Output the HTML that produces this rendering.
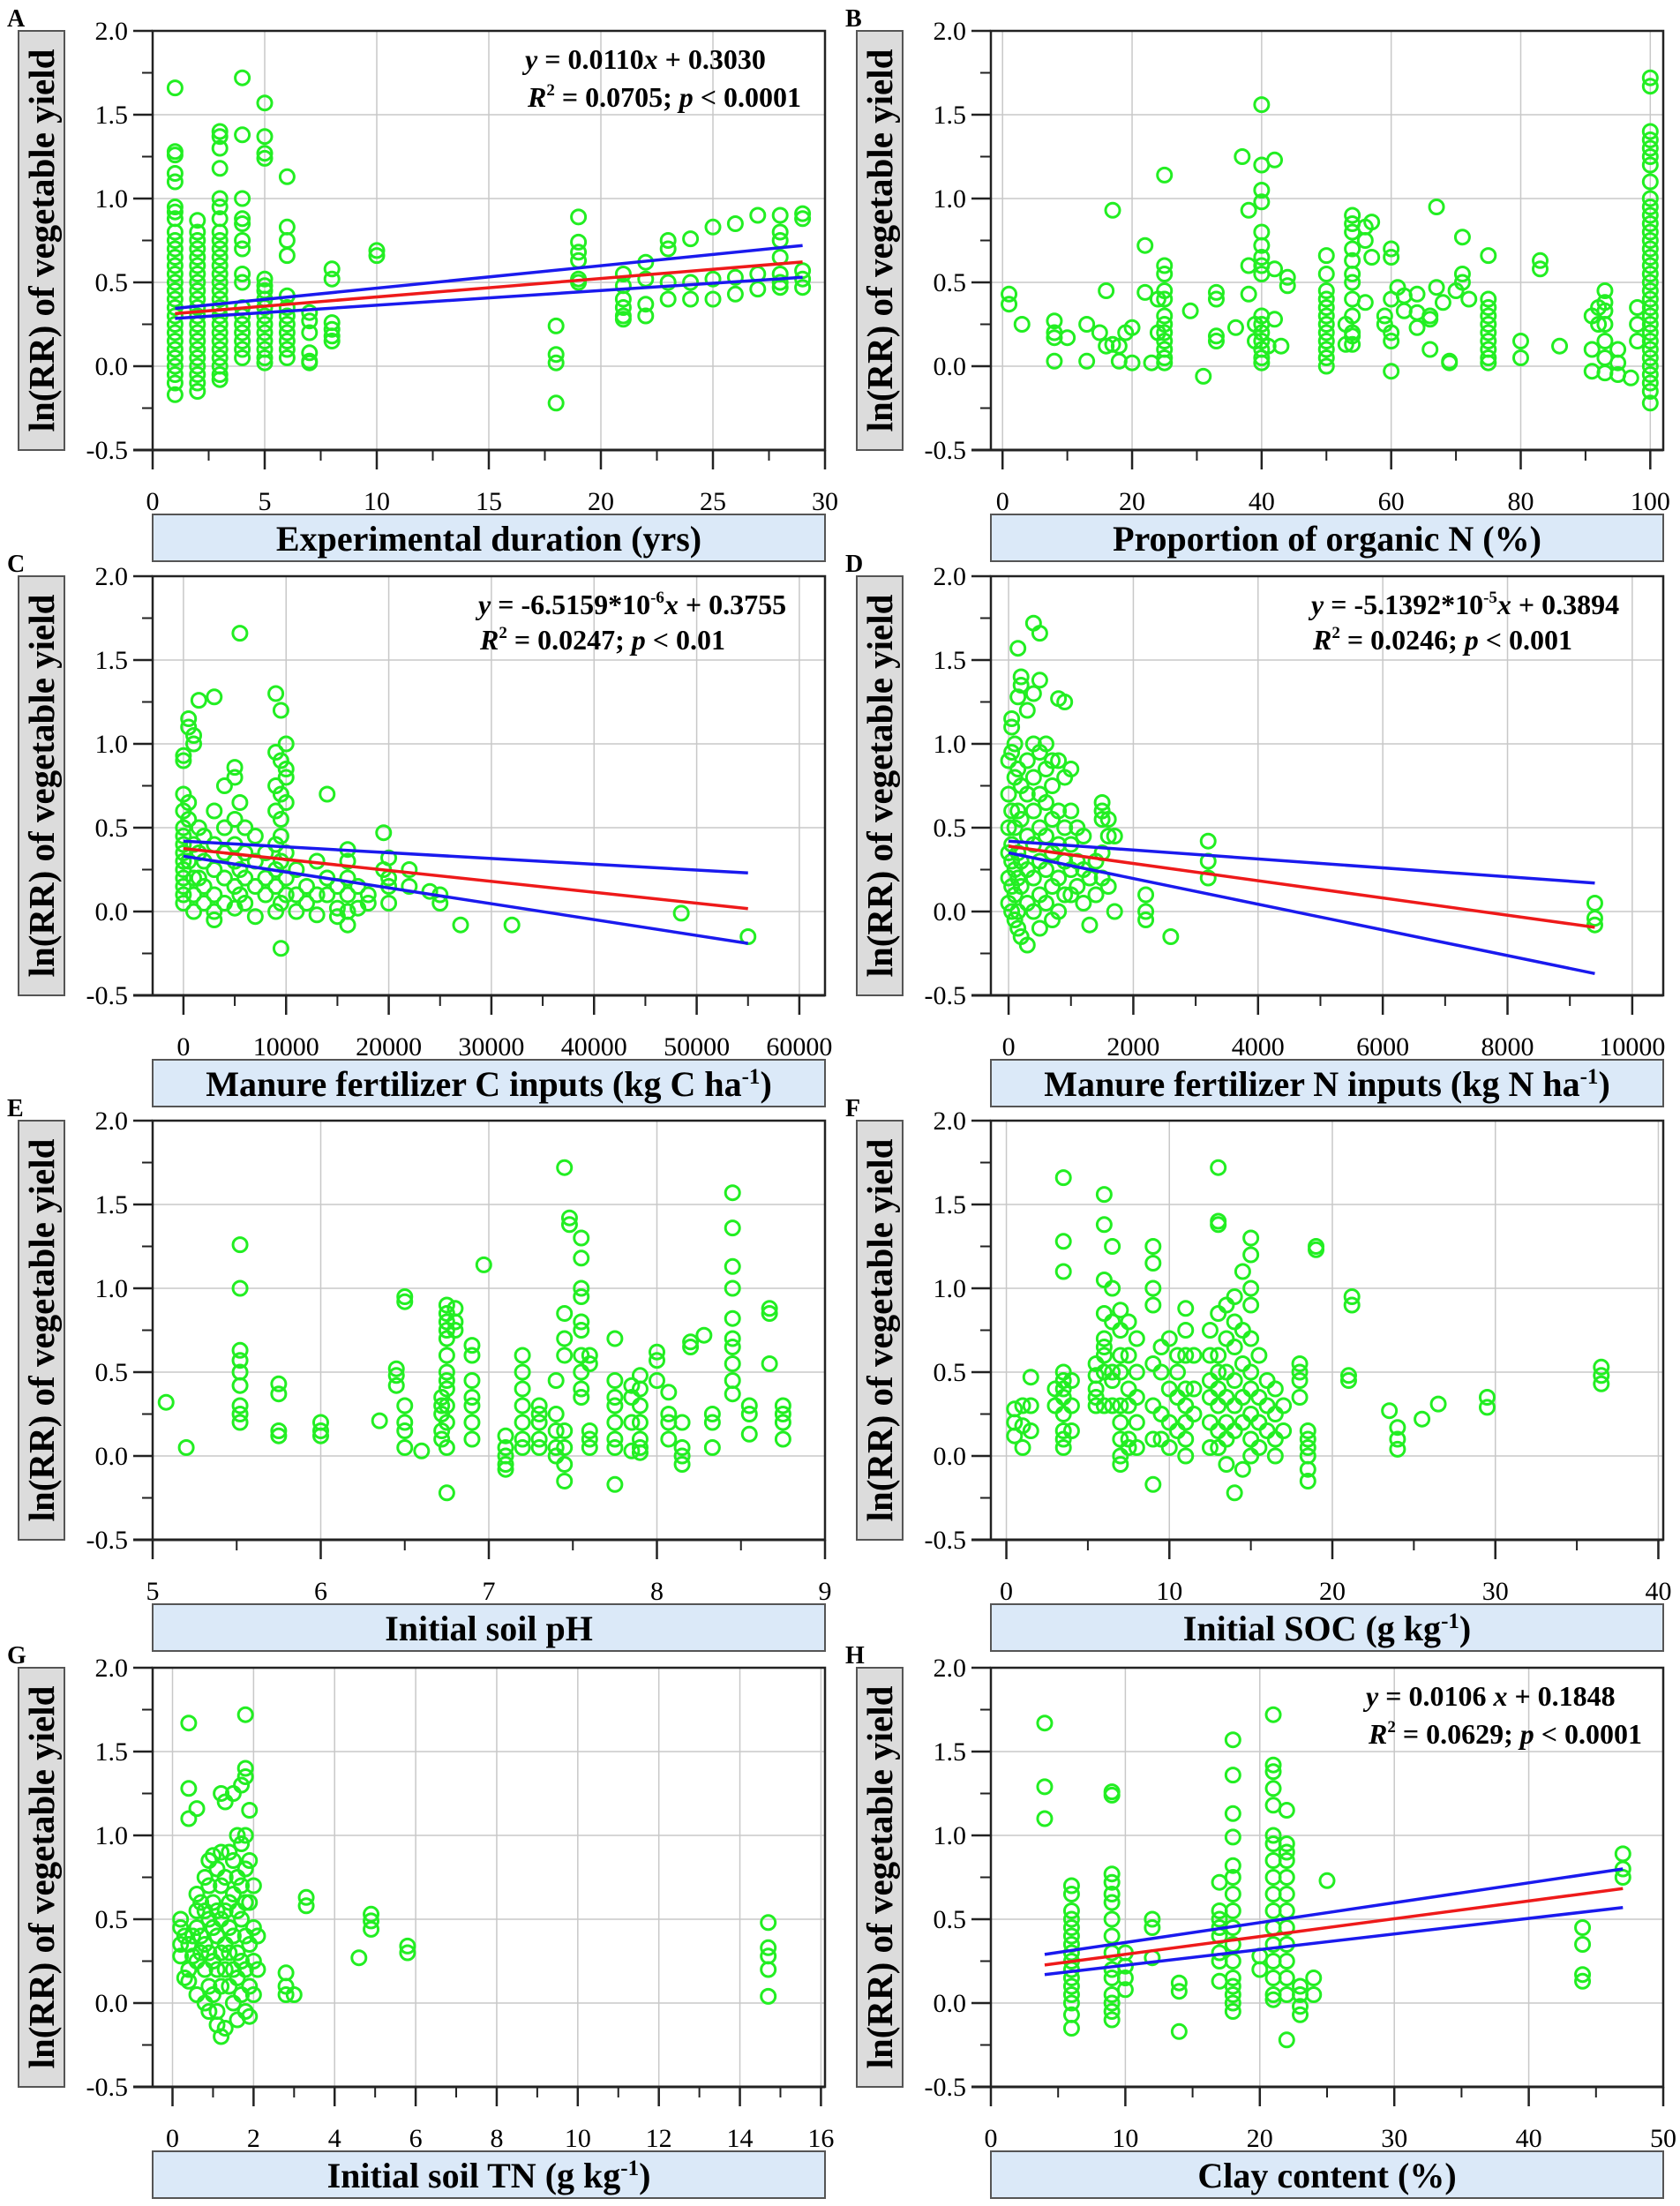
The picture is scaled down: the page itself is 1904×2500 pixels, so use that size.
<!DOCTYPE html>
<html><head><meta charset="utf-8">
<style>
html,body{margin:0;padding:0;background:#fff;}
svg{display:block;}
text{font-family:"Liberation Serif",serif;}
</style></head>
<body>
<svg id="fig" width="1904" height="2500" viewBox="0 0 1904 2500" xmlns="http://www.w3.org/2000/svg"></svg>
<script>
// ---- Panel A data: experimental duration (yrs) ----
const aCols = [1,2,3,4,5,6,7,8,10,18,19,21,22,23,24,25,26,27,28,29];
const aVals = [
 [1.66,1.28,1.26,1.15,1.1,0.95,0.92,0.88,0.8,0.75,0.7,0.65,0.6,0.55,0.5,0.45,0.4,0.35,0.3,0.25,0.2,0.15,0.1,0.05,0,-0.05,-0.1,-0.17],
 [0.87,0.8,0.75,0.7,0.65,0.6,0.55,0.5,0.45,0.4,0.35,0.3,0.25,0.2,0.15,0.1,0.05,0,-0.05,-0.1,-0.15],
 [1.4,1.37,1.3,1.18,1.0,0.95,0.88,0.8,0.75,0.7,0.65,0.6,0.55,0.5,0.45,0.4,0.35,0.3,0.25,0.2,0.15,0.1,0.05,0,-0.05,-0.08],
 [1.72,1.38,1.0,0.88,0.85,0.75,0.7,0.55,0.5,0.35,0.3,0.25,0.2,0.15,0.1,0.05],
 [1.57,1.37,1.27,1.24,0.52,0.48,0.45,0.4,0.35,0.3,0.25,0.2,0.15,0.1,0.05,0.02],
 [1.13,0.83,0.75,0.66,0.42,0.35,0.3,0.25,0.2,0.15,0.1,0.05],
 [0.32,0.27,0.2,0.08,0.03,0.02],
 [0.58,0.52,0.26,0.22,0.18,0.15],
 [0.69,0.66],
 [0.24,0.07,0.02,-0.22],
 [0.89,0.74,0.68,0.63,0.52,0.5],
 [0.55,0.48,0.4,0.35,0.3,0.28],
 [0.62,0.52,0.37,0.3],
 [0.75,0.7,0.5,0.4],
 [0.76,0.5,0.4],
 [0.83,0.52,0.4],
 [0.85,0.53,0.43],
 [0.9,0.55,0.46],
 [0.9,0.8,0.75,0.65,0.55,0.5,0.47],
 [0.91,0.88,0.57,0.52,0.47]];
const aFit = [[1,0.314],[29,0.622]];
const aCiUp = [[1,0.345],[29,0.72]];
const aCiLo = [[1,0.285],[29,0.53]];

// ---- Panel B data: proportion of organic N (%) ----
const bCols = [1,3,8,10,13,15,16,17,18,19,20,22,23,24,25,29,31,33,36,37,38,39,40,41,42,43,44,50,53,54,56,57,59,60,61,62,64,66,67,68,69,70,71,72,75,80,83,86,91,92,93,95,97,98,100];
const bVals = [[0.43,0.37],[0.25],[0.27,0.2,0.17,0.03],[0.17],[0.03,0.25],[0.2],[0.45,0.12],[0.93,0.13],[0.12,0.03],[0.2],[0.23,0.02],[0.72,0.44],[0.02],[0.4,0.2],
 [1.14,0.6,0.55,0.45,0.4,0.3,0.25,0.2,0.15,0.1,0.05,0.02],[0.33],[-0.06],[0.44,0.4,0.18,0.15],[0.23],[1.25],[0.93,0.6,0.43],[0.25,0.15],
 [1.56,1.2,1.05,0.98,0.8,0.72,0.65,0.6,0.55,0.3,0.25,0.2,0.15,0.1,0.05,0.02],[0.12],[1.23,0.58,0.28],[0.12],[0.53,0.48],
 [0.66,0.55,0.45,0.4,0.35,0.3,0.25,0.2,0.15,0.1,0.05,0],[0.13,0.25],[0.9,0.85,0.8,0.7,0.63,0.55,0.5,0.4,0.3,0.2,0.18,0.13],[0.83,0.75,0.38],[0.86,0.65],[0.3,0.25],
 [0.7,0.65,0.4,0.2,0.15,-0.03],[0.47],[0.33,0.42],[0.32,0.23,0.43],[0.1,0.28,0.3],[0.95,0.47],[0.38],[0.03,0.02],[0.45],[0.77,0.55,0.5],[0.4],
 [0.66,0.4,0.35,0.3,0.25,0.2,0.15,0.1,0.05,0.02],[0.15,0.05],[0.63,0.58],[0.12],[0.3,0.1,-0.03],[0.35,0.25],[0.45,0.38,0.33,0.25,0.15,0.05,-0.04],[0.02,-0.05,0.1],[-0.07],[0.35,0.25,0.15],
 [1.72,1.67,1.4,1.35,1.3,1.25,1.2,1.1,1.0,0.95,0.9,0.85,0.8,0.75,0.7,0.65,0.6,0.55,0.5,0.45,0.4,0.35,0.3,0.25,0.2,0.15,0.1,0.05,0,-0.05,-0.1,-0.15,-0.22]];

// ---- Panel C data: manure C inputs (kg C/ha) ----
const cCols = [0,500,1000,1500,2000,3000,4000,5000,5500,6000,7000,8000,9000,9500,10000,11000,12000,13000,14000,15000,16000,17000,18000,19500,20000,22000,24000,25000,27000,32000,48500,55000];
const cVals = [[0.93,0.9,0.7,0.6,0.5,0.45,0.4,0.35,0.3,0.25,0.2,0.15,0.1,0.05],[1.15,1.1,0.65,0.55,0.3],[1.05,1.0,0.4,0.2,0.1,0.0],[1.26,0.5,0.35,0.2],[0.45,0.3,0.15,0.05],
 [1.28,0.6,0.4,0.25,0.1,0.0,-0.05],[0.75,0.5,0.35,0.2,0.05],[0.86,0.8,0.55,0.4,0.3,0.15,0.02],[1.66,0.65,0.25,0.1],[0.5,0.35,0.2,0.05],[0.45,0.3,0.15,-0.03],[0.35,0.2,0.1],
 [1.3,0.95,0.75,0.6,0.4,0.25,0.15,0.0],[1.2,0.9,0.7,0.55,0.45,0.3,0.05,-0.22],[1.0,0.85,0.8,0.65,0.35,0.2,0.1],[0.25,0.1,0.0],[0.15,0.05],[0.3,0.1,-0.02],[0.7,0.2,0.1],
 [0.15,0.02,-0.03],[0.37,0.3,0.2,0.1,0.0,-0.08],[0.15,0.02],[0.1,0.05],[0.47,0.25],[0.32,0.2,0.15,0.05],[0.25,0.15],[0.12],[0.1,0.05],[-0.08],[-0.08],[-0.01],[-0.15]];
const cFit = [[0,0.3755],[55000,0.017]];
const cCiUp = [[0,0.42],[55000,0.23]];
const cCiLo = [[0,0.33],[55000,-0.19]];

// ---- Panel D data: manure N inputs (kg N/ha) ----
const dCols = [0,50,100,150,200,300,400,500,600,700,800,900,1000,1100,1200,1300,1400,1500,1600,1700,2200,2600,3200,9400];
const dVals = [[0.9,0.7,0.5,0.35,0.2,0.05],[1.15,1.1,0.95,0.6,0.4,0.3,0.15,0.0],[1.0,0.8,0.5,0.25,0.1,-0.05],[1.57,1.28,0.85,0.6,0.35,0.2,0.0,-0.1],[1.4,1.35,0.75,0.55,0.3,0.15,-0.15],
 [1.2,0.9,0.7,0.45,0.25,0.05,-0.2],[1.72,1.3,1.0,0.8,0.6,0.4,0.2,0.0],[1.66,1.38,0.95,0.7,0.5,0.3,0.1,-0.1],[1.0,0.85,0.65,0.45,0.25,0.05],[0.9,0.75,0.55,0.35,0.15,-0.05],
 [1.27,0.9,0.6,0.4,0.2,0.0],[1.25,0.8,0.5,0.3,0.1],[0.85,0.6,0.4,0.25,0.1],[0.5,0.3,0.15],[0.45,0.25,0.05],[0.2,-0.08],[0.3,0.1],[0.65,0.6,0.55,0.35,0.2],[0.55,0.45,0.15],[0.45,0.0],
 [0.1,0.0,-0.05],[-0.15],[0.42,0.3,0.2],[0.05,-0.04,-0.08]];
const dFit = [[0,0.3894],[9400,-0.094]];
const dCiUp = [[0,0.42],[9400,0.17]];
const dCiLo = [[0,0.35],[9400,-0.37]];

// ---- Panel E data: initial soil pH ----
const eCols = [5.08,5.2,5.52,5.75,6.0,6.35,6.45,6.5,6.6,6.72,6.75,6.8,6.9,6.97,7.1,7.2,7.3,7.4,7.45,7.48,7.55,7.6,7.75,7.85,7.9,8.0,8.07,8.15,8.2,8.28,8.33,8.45,8.55,8.67,8.75];
const eVals = [[0.32],[0.05],[1.26,1.0,0.63,0.57,0.5,0.42,0.3,0.25,0.2],[0.43,0.37,0.15,0.12],[0.2,0.15,0.12],[0.21],[0.52,0.48,0.42],[0.95,0.92,0.3,0.2,0.15,0.05],[0.03],
 [0.35,0.3,0.25,0.15,0.1],[0.9,0.85,0.8,0.75,0.7,0.6,0.5,0.45,0.4,0.3,0.2,0.05,-0.22],[0.88,0.8,0.75],[0.66,0.6,0.45,0.35,0.3,0.2,0.1],[1.14],[0.12,0.05,0.0,-0.05,-0.08],
 [0.6,0.5,0.4,0.3,0.2,0.1,0.05],[0.3,0.25,0.2,0.1,0.05],[0.45,0.25,0.15,0.05,0.0],[1.72,0.85,0.7,0.6,0.15,0.05,-0.05,-0.15],[1.42,1.38],[1.3,1.18,1.0,0.95,0.8,0.75,0.6,0.5,0.4,0.35],
 [0.6,0.55,0.15,0.1,0.05],[0.7,0.45,0.35,0.3,0.2,0.1,0.05,-0.17],[0.42,0.35,0.2,0.03],[0.48,0.4,0.3,0.2,0.1,0.05,0.02],[0.62,0.57,0.45],[0.38,0.25,0.2,0.1],[0.2,0.05,0.0,-0.05],
 [0.68,0.65],[0.72],[0.25,0.2,0.05],[1.57,1.36,1.13,1.0,0.82,0.7,0.65,0.55,0.45,0.37],[0.3,0.25,0.13],[0.88,0.85,0.55],[0.3,0.25,0.2,0.1]];

// ---- Panel F data: initial SOC (g/kg) ----
const fCols = [0.5,1,1.5,3,3.5,4,5.5,6,6.5,7,7.5,8,9,9.5,10,10.5,11,11.5,12.5,13,13.5,14,14.5,15,15.5,16,16.5,17,18,18.5,19,21,21.2,23.5,24,25.5,26.5,29.5,36.5];
const fVals = [[0.28,0.2,0.12],[0.3,0.18,0.05],[0.47,0.3,0.15],[0.3,0.4],[1.66,1.28,1.1,0.5,0.45,0.4,0.35,0.25,0.15,0.1,0.05],[0.45,0.3,0.15],[0.55,0.48,0.4,0.35,0.3],
 [1.56,1.38,1.05,0.85,0.7,0.65,0.6,0.5,0.3],[1.25,1.0,0.8,0.5,0.45,0.3],[0.87,0.75,0.6,0.5,0.3,0.2,0.1,0,-0.05],[0.8,0.6,0.4,0.3,0.1,0.05],[0.7,0.5,0.35,0.2,0.05],
 [1.25,1.15,1.0,0.9,0.55,0.3,0.1,-0.17],[0.65,0.5,0.25,0.1],[0.7,0.4,0.2,0.05],[0.6,0.5,0.35,0.15],[0.88,0.75,0.6,0.4,0.3,0.2,0.1,0.0],[0.6,0.4,0.25],[0.75,0.6,0.45,0.35,0.2,0.05],
 [1.72,1.4,1.38,0.85,0.6,0.5,0.4,0.3,0.15,0.05],[0.9,0.7,0.5,0.35,0.2,0.1,-0.05],[0.95,0.8,0.65,0.45,0.3,0.15,-0.22],[1.1,0.75,0.55,0.35,0.2,-0.08],[1.3,1.2,1.0,0.9,0.7,0.5,0.4,0.25,0.1,0.0],
 [0.6,0.35,0.2,0.05],[0.45,0.3,0.15],[0.4,0.25,0.1,0.0],[0.3,0.15],[0.55,0.5,0.45,0.35],[0.15,0.1,0.05,0,-0.08,-0.15],[1.25,1.23],[0.48,0.45],[0.95,0.9],[0.27],[0.17,0.1,0.04],[0.22],[0.31],[0.35,0.29],[0.53,0.48,0.43]];

// ---- Panel G data: initial soil TN (g/kg) ----
const gCols = [0.2,0.3,0.4,0.5,0.6,0.7,0.8,0.9,1.0,1.1,1.2,1.3,1.4,1.5,1.6,1.7,1.8,1.9,2.0,2.1,2.8,3.0,3.3,4.6,4.9,5.8,14.7];
const gVals = [[0.5,0.45,0.35,0.28],[0.4,0.15],[1.67,1.28,1.1,0.35,0.2,0.13],[0.4,0.28],[1.16,0.65,0.55,0.45,0.25,0.05],[0.6,0.4,0.3],[0.75,0.55,0.35,0.2,0.0],
 [0.85,0.7,0.5,0.3,0.1,-0.05],[0.88,0.6,0.45,0.25,0.05],[0.8,0.55,0.4,0.2,-0.05,-0.13],[1.25,0.9,0.7,0.5,0.3,0.1,-0.2],[1.2,0.75,0.55,0.35,0.2,-0.15],[0.9,0.6,0.45,0.3,0.1],
 [1.25,0.85,0.65,0.4,0.2,0.0],[1.0,0.75,0.55,0.3,0.15,-0.1],[1.3,0.95,0.7,0.5,0.25,0.05],[1.72,1.4,1.35,1.0,0.8,0.6,0.4,0.2,-0.05],[1.15,0.85,0.6,0.35,0.1,-0.08],
 [0.7,0.45,0.25,0.05],[0.4,0.2],[0.18,0.1,0.05],[0.05],[0.63,0.58],[0.27],[0.53,0.49,0.44],[0.34,0.3],[0.48,0.33,0.28,0.2,0.04]];

// ---- Panel H data: clay content (%) ----
const hCols = [4,6,9,10,12,14,17,18,20,21,22,23,24,25,44,47];
const hVals = [[1.67,1.29,1.1],[0.7,0.65,0.55,0.5,0.45,0.4,0.35,0.3,0.25,0.2,0.15,0.1,0.05,0,-0.07,-0.15],[1.26,1.24,0.77,0.72,0.65,0.6,0.5,0.4,0.3,0.2,0.15,0.05,0,-0.05,-0.1],
 [0.3,0.22,0.15,0.08],[0.5,0.45,0.27],[0.12,0.07,-0.17],[0.72,0.55,0.5,0.45,0.4,0.3,0.25,0.13],[1.57,1.36,1.13,0.99,0.82,0.75,0.65,0.55,0.45,0.35,0.25,0.15,0.1,0.05,0,-0.05],
 [0.28,0.2],[1.72,1.42,1.38,1.28,1.18,1.0,0.95,0.85,0.75,0.65,0.55,0.45,0.35,0.25,0.15,0.05,0.02],[1.15,0.95,0.9,0.85,0.75,0.65,0.55,0.45,0.35,0.25,0.15,0.05,-0.22],
 [0.1,0.05,-0.02,-0.07],[0.15,0.05],[0.73],[0.45,0.35,0.17,0.13],[0.89,0.8,0.75]];
const hFit = [[4,0.2272],[47,0.683]];
const hCiUp = [[4,0.29],[47,0.80]];
const hCiLo = [[4,0.17],[47,0.57]];

const yTicks = ["-0.5","0.0","0.5","1.0","1.5","2.0"];
const aTicks = ["0","5","10","15","20","25","30"];
const bTicks = ["0","20","40","60","80","100"];
const cTicks = ["0","10000","20000","30000","40000","50000","60000"];
const dTicks = ["0","2000","4000","6000","8000","10000"];
const eTicks = ["5","6","7","8","9"];
const fTicks = ["0","10","20","30","40"];
const gTicks = ["0","2","4","6","8","10","12","14","16"];
const hTicks = ["0","10","20","30","40","50"];

const NS = "http://www.w3.org/2000/svg";
const svg = document.getElementById('fig');
function mk(tag, attrs, parent){ const e=document.createElementNS(NS,tag); for(const k in attrs) e.setAttribute(k,attrs[k]); (parent||svg).appendChild(e); return e; }

const COLS=[173,1123], W=762, TOPS=[35,653,1270,1890], H=475;
const panels = [
 {id:'a',letter:'A',c:0,r:0,xmin:0,xmax:30,ticks:aTicks,minor:2.5,cols:aCols,vals:aVals,fit:aFit,up:aCiUp,lo:aCiLo,label:['Experimental duration (yrs)'],eq:['0.0110','x + 0.3030','0.0705','0.0001',595]},
 {id:'b',letter:'B',c:1,r:0,xmin:-1.8,xmax:102,ticks:bTicks,minor:10,cols:bCols,vals:bVals,label:['Proportion of organic N (%)']},
 {id:'c',letter:'C',c:0,r:1,xmin:-3000,xmax:62500,ticks:cTicks,minor:5000,cols:cCols,vals:cVals,fit:cFit,up:cCiUp,lo:cCiLo,label:['Manure fertilizer C inputs (kg C ha','-1',')'],eqC:['-6.5159*10','-6','0.3755','0.0247','0.01',542]},
 {id:'d',letter:'D',c:1,r:1,xmin:-284,xmax:10497,ticks:dTicks,minor:1000,cols:dCols,vals:dVals,fit:dFit,up:dCiUp,lo:dCiLo,label:['Manure fertilizer N inputs (kg N ha','-1',')'],eqC:['-5.1392*10','-5','0.3894','0.0246','0.001',1486]},
 {id:'e',letter:'E',c:0,r:2,xmin:5,xmax:9,ticks:eTicks,minor:0.5,cols:eCols,vals:eVals,label:['Initial soil pH']},
 {id:'f',letter:'F',c:1,r:2,xmin:-0.95,xmax:40.3,ticks:fTicks,minor:5,cols:fCols,vals:fVals,label:['Initial SOC  (g kg','-1',')']},
 {id:'g',letter:'G',c:0,r:3,xmin:-0.49,xmax:16.1,ticks:gTicks,minor:1,cols:gCols,vals:gVals,label:['Initial soil TN (g kg','-1',')']},
 {id:'h',letter:'H',c:1,r:3,xmin:0,xmax:50,ticks:hTicks,minor:5,cols:hCols,vals:hVals,fit:hFit,up:hCiUp,lo:hCiLo,label:['Clay content (%)'],eq:['0.0106',' x + 0.1848','0.0629','0.0001',1548]}
];

panels.forEach(p=>{
  const L=COLS[p.c], T=TOPS[p.r], R=L+W, B=T+H;
  const sx=v=>L+(v-p.xmin)/(p.xmax-p.xmin)*W;
  const sy=v=>B-(v+0.5)/2.5*H;
  const g=mk('g',{});
  
  
  const lt=mk('text',{x:L-165,y:T-5,'font-family':'Liberation Sans, sans-serif','font-weight':'bold','font-size':28},g);
  lt.textContent=p.letter;
  
  
  const yb=mk('rect',{x:L-152,y:T,width:52,height:H,fill:'#dcdcdc',stroke:'#555','stroke-width':2},g);
  
  
  const yt=mk('text',{x:0,y:0,transform:`translate(${L-112},${T+H/2}) rotate(-90)`,'text-anchor':'middle','font-weight':'bold','font-size':41},g);
  yt.textContent='ln(RR) of vegetable yield';
  
  
  for(let i=0;i<yTicks.length;i++){ const v=-0.5+0.5*i; const y=sy(v);
    mk('line',{x1:L,x2:R,y1:y,y2:y,stroke:'#c8c8c8','stroke-width':1.5},g);
    mk('line',{x1:L-22,x2:L,y1:y,y2:y,stroke:'#222','stroke-width':2.5},g);
    const t=mk('text',{x:L-28,y:y+10,'text-anchor':'end','font-size':30},g); t.textContent=yTicks[i];
    
    
    if(i<yTicks.length-1){ const ym=sy(v+0.25); mk('line',{x1:L-12,x2:L,y1:ym,y2:ym,stroke:'#222','stroke-width':2},g); }
  }
  p.ticks.forEach((lab)=>{ const v=parseFloat(lab); const x=sx(v);
    if(x>L+2&&x<R-2) mk('line',{x1:x,x2:x,y1:T,y2:B,stroke:'#c8c8c8','stroke-width':1.5},g);
    mk('line',{x1:x,x2:x,y1:B,y2:B+22,stroke:'#222','stroke-width':2.5},g);
    const t=mk('text',{x:x,y:B+68,'text-anchor':'middle','font-size':30},g); t.textContent=lab;
    
    
  });
  const t0=parseFloat(p.ticks[0]);
  for(let v=t0+p.minor; v<parseFloat(p.ticks[p.ticks.length-1]); v+=p.minor*2){ const x=sx(v); mk('line',{x1:x,x2:x,y1:B,y2:B+12,stroke:'#222','stroke-width':2},g); }
  mk('rect',{x:L,y:T,width:W,height:H,fill:'none',stroke:'#222','stroke-width':2.5},g);
  mk('line',{x1:L-22,x2:R,y1:B,y2:B,stroke:'#222','stroke-width':3},g);
  p.cols.forEach((cx,i)=>{ p.vals[i].forEach(v=>{
    const c=mk('circle',{cx:sx(cx),cy:sy(v),r:8,fill:'none',stroke:'#22ee22','stroke-width':3},g);
    
    
  });});
  if(p.fit){
    [[p.up,'#1a1aee','ci-upper'],[p.lo,'#1a1aee','ci-lower'],[p.fit,'#ee1a1a','fit-line']].forEach(([d,col,nm])=>{
      const ln=mk('line',{x1:sx(d[0][0]),y1:sy(d[0][1]),x2:sx(d[1][0]),y2:sy(d[1][1]),stroke:col,'stroke-width':3.5},g);
      
      
    });
  }
  const eqs={'font-weight':'bold','font-size':32};
  if(p.eq){
    const e1=mk('text',Object.assign({x:p.eq[4],y:T+43},eqs),g);
    e1.innerHTML=`<tspan font-style="italic">y</tspan> = ${p.eq[0]}${p.eq[1].replace('x','<tspan font-style="italic">x</tspan>')}`;
    
    
    const e2=mk('text',Object.assign({x:p.eq[4]+3,y:T+86},eqs),g);
    e2.innerHTML=`<tspan font-style="italic">R</tspan><tspan dy="-13" font-size="19">2</tspan><tspan dy="13"> = ${p.eq[2]}; </tspan><tspan font-style="italic">p</tspan> &lt; ${p.eq[3]}`;
    
    
  }
  if(p.eqC){
    const e1=mk('text',Object.assign({x:p.eqC[5],y:T+43},eqs),g);
    e1.innerHTML=`<tspan font-style="italic">y</tspan> = ${p.eqC[0]}<tspan dy="-13" font-size="19">${p.eqC[1]}</tspan><tspan dy="13" font-style="italic">x</tspan> + ${p.eqC[2]}`;
    
    
    const e2=mk('text',Object.assign({x:p.eqC[5]+2,y:T+83},eqs),g);
    e2.innerHTML=`<tspan font-style="italic">R</tspan><tspan dy="-13" font-size="19">2</tspan><tspan dy="13"> = ${p.eqC[3]}; </tspan><tspan font-style="italic">p</tspan> &lt; ${p.eqC[4]}`;
    
    
  }
  const xb=mk('rect',{x:L,y:B+73,width:W,height:53,fill:'#dbe9f8',stroke:'#555','stroke-width':2},g);
  
  
  const xt=mk('text',{x:L+W/2,y:B+114,'text-anchor':'middle','font-weight':'bold','font-size':40},g);
  if(p.label.length===1) xt.textContent=p.label[0];
  else xt.innerHTML=`${p.label[0]}<tspan dy="-14" font-size="25">${p.label[1]}</tspan><tspan dy="14">${p.label[2]}</tspan>`;
  
  
});
</script>
</body></html>
